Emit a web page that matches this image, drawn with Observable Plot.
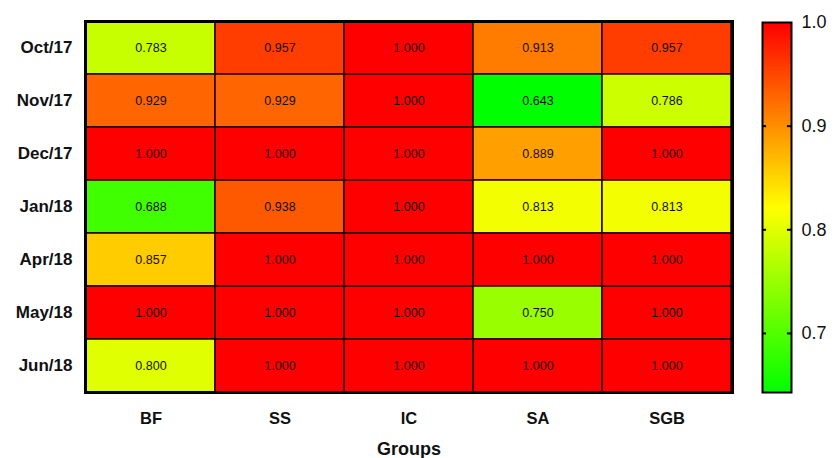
<!DOCTYPE html>
<html>
<head>
<meta charset="utf-8">
<script src="https://cdn.jsdelivr.net/npm/d3@7"></script>
<script src="https://cdn.jsdelivr.net/npm/@observablehq/plot@0.6"></script>
<style>
  body { margin: 0; background: #fff; }
  #wrap { position: relative; width: 839px; height: 458px; font-family: "Liberation Sans", Arial, sans-serif; }
  #wrap > div, #wrap > svg { position: absolute; top: 0; }
</style>
</head>
<body>
<div id="wrap"><div id="main" style="left:0"></div><div id="bar" style="left:740px"></div></div>
<script>
const groups = ["BF", "SS", "IC", "SA", "SGB"];
const months = ["Oct/17", "Nov/17", "Dec/17", "Jan/18", "Apr/18", "May/18", "Jun/18"];
const valuesBF  = [0.783, 0.929, 1.000, 0.688, 0.857, 1.000, 0.800];
const valuesSS  = [0.957, 0.929, 1.000, 0.938, 1.000, 1.000, 1.000];
const valuesIC  = [1.000, 1.000, 1.000, 1.000, 1.000, 1.000, 1.000];
const valuesSA  = [0.913, 0.643, 0.889, 0.813, 1.000, 0.750, 1.000];
const valuesSGB = [0.957, 0.786, 1.000, 0.813, 1.000, 1.000, 1.000];
const colorTicks = [0.7, 0.8, 0.9, 1.0];
const colorDomain = [0.643, 0.8215, 1.0];
const colorRange = ["#00ff00", "#ffff00", "#ff0000"];

const series = {BF: valuesBF, SS: valuesSS, IC: valuesIC, SA: valuesSA, SGB: valuesSGB};
const table = [];
for (const g of groups) months.forEach((m, i) => table.push({group: g, month: m, value: series[g][i]}));

const font = '"Liberation Sans", Arial, sans-serif';
const colorOpts = {type: "linear", domain: colorDomain, range: colorRange, interpolate: "rgb"};

const main = Plot.plot({
  width: 839, height: 458,
  marginLeft: 85, marginRight: 107, marginTop: 21, marginBottom: 66,
  style: {fontFamily: font, background: "transparent"},
  x: {type: "band", domain: groups, padding: 0},
  y: {type: "band", domain: months, padding: 0},
  color: colorOpts,
  marks: [
    Plot.cell(table, {x: "group", y: "month", fill: "value", stroke: "#220000", strokeWidth: 1.5, inset: 0}),
    Plot.text(table, {x: "group", y: "month", text: d => d.value.toFixed(3), fontSize: 12.5, fill: "#111"}),
    Plot.frame({stroke: "#000", strokeWidth: 3}),
    Plot.axisX({tickSize: 0, tickPadding: 20, fontSize: 16.5, fontWeight: "bold", label: "Groups", labelAnchor: "center", labelArrow: "none", labelOffset: 62, fill: "#111"}),
    Plot.axisY({tickSize: 0, tickPadding: 13, fontSize: 17, fontWeight: "bold", label: null, fill: "#111"})
  ]
});
document.getElementById("main").appendChild(main);
main.querySelectorAll('g[aria-label="x-axis label"] text').forEach(t => { t.setAttribute("font-size", 18); t.setAttribute("font-weight", "bold"); t.setAttribute("fill", "#111"); });
main.querySelectorAll('g[aria-label="x-axis label"]').forEach(g => { g.setAttribute("font-size", 18); g.setAttribute("font-weight", "bold"); });

const bar = Plot.plot({
  width: 99, height: 458,
  marginLeft: 22, marginRight: 48, marginTop: 22, marginBottom: 66,
  style: {fontFamily: font, background: "transparent"},
  x: {domain: [0, 1], axis: null},
  y: {domain: [colorDomain[0], colorDomain[2]], ticks: colorTicks, tickFormat: ".1f"},
  color: colorOpts,
  marks: [
    Plot.raster({fill: (x, y) => y, x1: 0, x2: 1, y1: colorDomain[0], y2: colorDomain[2], width: 2, height: 400, imageRendering: "auto"}),
    Plot.ruleY(colorTicks.slice(0, 3), {x1: 0, x2: 0.14, stroke: "#000", strokeWidth: 2}),
    Plot.ruleY(colorTicks.slice(0, 3), {x1: 0.86, x2: 1, stroke: "#000", strokeWidth: 2}),
    Plot.frame({stroke: "#000", strokeWidth: 2}),
    Plot.axisY({anchor: "right", ticks: colorTicks, tickFormat: ".1f", tickSize: 0, tickPadding: 10, fontSize: 18, label: null, fill: "#111"})
  ]
});
document.getElementById("bar").appendChild(bar);
</script>
</body>
</html>
